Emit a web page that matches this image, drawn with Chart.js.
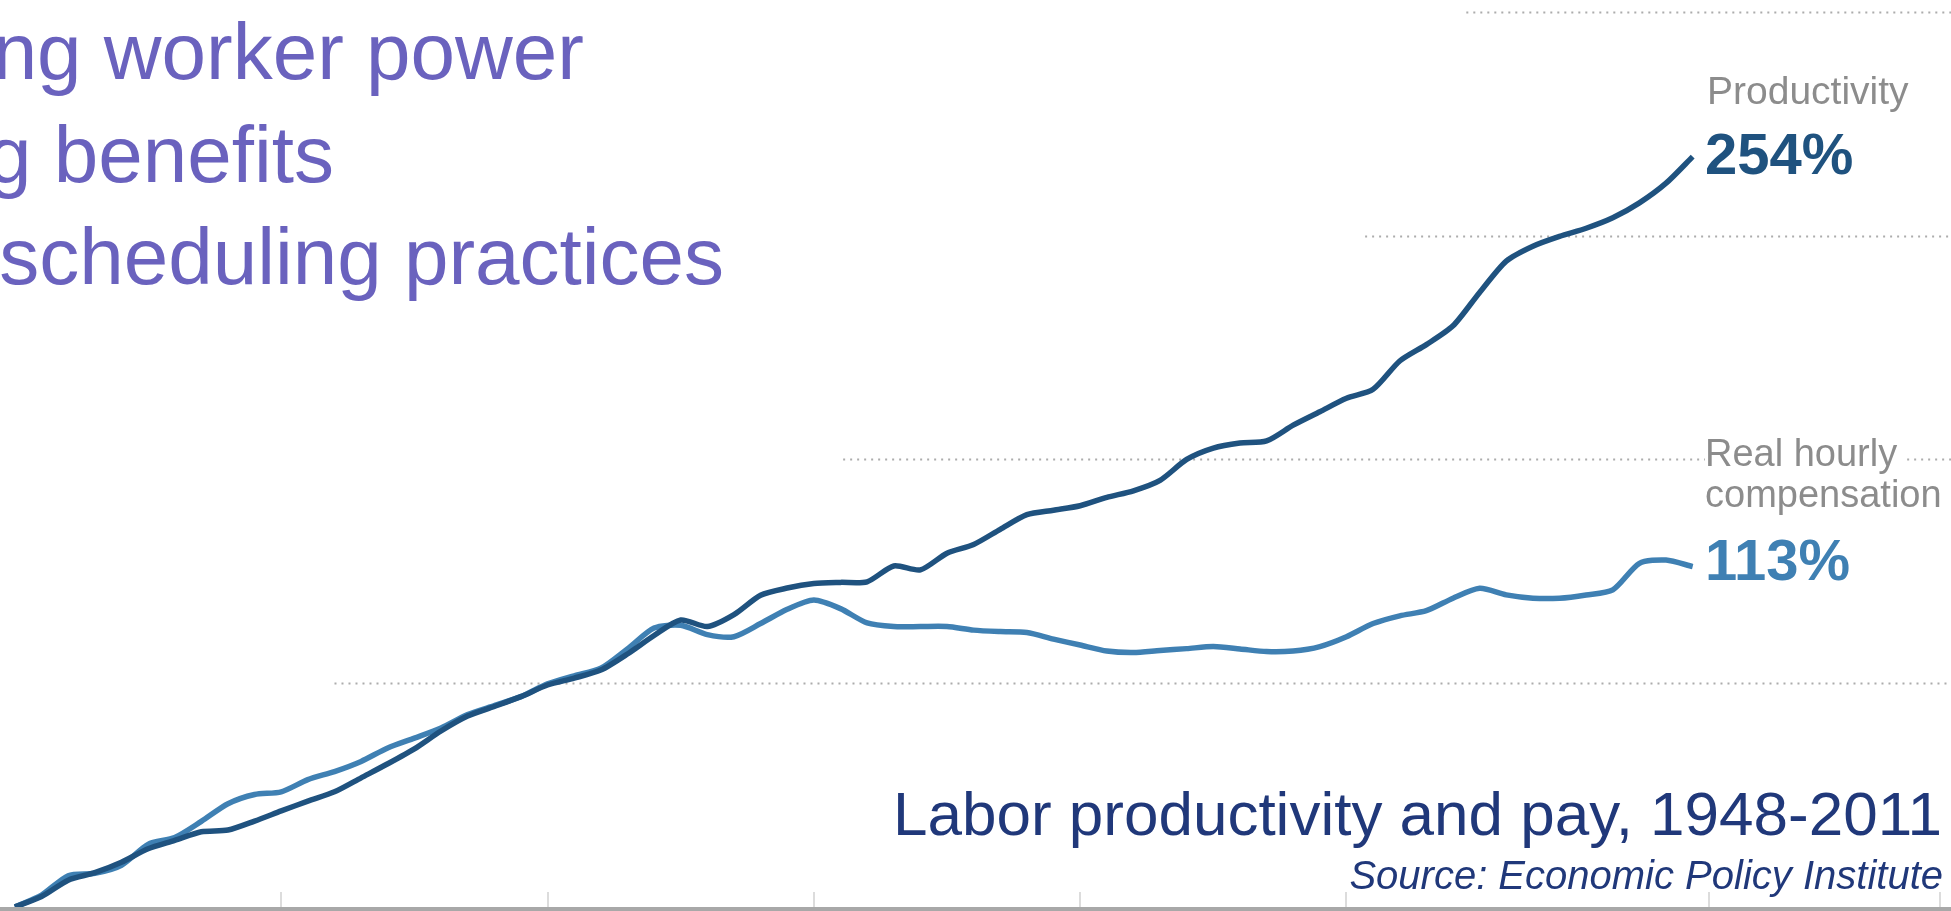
<!DOCTYPE html>
<html>
<head>
<meta charset="utf-8">
<title>Labor productivity and pay, 1948-2011</title>
<script src="https://cdn.jsdelivr.net/npm/chart.js@4.4.1/dist/chart.umd.min.js"></script>
<style>
    html, body {
        margin: 0;
        padding: 0;
        background: #ffffff;
    }
    body {
        width: 1951px;
        height: 911px;
        overflow: hidden;
        position: relative;
        font-family: "Liberation Sans", Arial, sans-serif;
    }
    #chartWrap {
        position: absolute;
        left: 0;
        top: 0;
        width: 1951px;
        height: 911px;
    }
    .txt {
        position: absolute;
        white-space: nowrap;
        line-height: 1;
    }
    .bullet {
        font-size: 80px;
        color: #6a62be;
    }
    .series-name {
        font-size: 38px;
        color: #8c8c8c;
        background: #ffffff;
    }
    .series-value {
        font-size: 58px;
        font-weight: bold;
    }
    .title {
        font-size: 62px;
        color: #20387a;
    }
    .source {
        font-size: 40px;
        font-style: italic;
        color: #20387a;
    }
</style>
</head>
<body>
<div id="chartWrap">
    <canvas id="payChart" width="1951" height="911"></canvas>
</div>

<!-- slide bullets, cut off on the left -->
<div class="txt bullet" style="right:1367px; top:12px;">ng worker power</div>
<div class="txt bullet" style="right:1617px; top:115px;">g benefits</div>
<div class="txt bullet" style="right:1227px; top:217px;">scheduling practices</div>

<!-- end labels -->
<div class="txt series-name" style="left:1707px; top:71px; font-size:39px;">Productivity</div>
<div class="txt series-value" style="left:1705px; top:125px; color:#1f527f;">254%</div>
<div class="txt series-name" style="left:1705px; top:434px; padding-right:6px;">Real hourly</div>
<div class="txt series-name" style="left:1705px; top:475px;">compensation</div>
<div class="txt series-value" style="left:1705px; top:531px; color:#3f80b3;">113%</div>

<div class="txt title" style="right:9px; top:783px;">Labor productivity and pay, 1948-2011</div>
<div class="txt source" style="right:8px; top:855px;">Source: Economic Policy Institute</div>

<script>
// Years on the x axis
const years = [
    1948, 1949, 1950, 1951, 1952, 1953, 1954, 1955, 1956, 1957,
    1958, 1959, 1960, 1961, 1962, 1963, 1964, 1965, 1966, 1967,
    1968, 1969, 1970, 1971, 1972, 1973, 1974, 1975, 1976, 1977,
    1978, 1979, 1980, 1981, 1982, 1983, 1984, 1985, 1986, 1987,
    1988, 1989, 1990, 1991, 1992, 1993, 1994, 1995, 1996, 1997,
    1998, 1999, 2000, 2001, 2002, 2003, 2004, 2005, 2006, 2007,
    2008, 2009, 2010, 2011
];

// Cumulative change since 1948, %
const productivity = [
    0, 3.5, 9, 11.5, 15, 19.5, 22.3, 25.2, 25.8, 28.8,
    32.2, 35.5, 38.6, 43.3, 48, 53, 59, 64, 67.2, 70.5,
    74.4, 76.7, 79.4, 84.8, 91, 96.2, 94, 98, 104.5, 106.9,
    108.4, 108.8, 109, 114.3, 113, 118.6, 121.5, 126.6, 131.5, 133,
    134.5, 137.3, 139.5, 143, 150, 153.8, 155.5, 156.2, 161.5, 166,
    170.5, 173.5, 183, 188.5, 194.8, 206, 216.5, 221.5, 224.8, 227.5,
    231, 236, 242.6, 251.5
];

const compensation = [
    0, 4, 10.5, 11.3, 14, 21, 23.3, 28.7, 34.6, 37.7,
    38.6, 42.7, 45.4, 48.8, 53.3, 56.6, 60, 64.5, 67.5, 70.5,
    74.8, 77.5, 80, 86.5, 93.5, 94.4, 91.3, 90.6, 95, 99.8,
    102.9, 100, 95.2, 94, 94, 94, 92.8, 92.3, 92, 89.8,
    87.8, 85.8, 85.3, 86, 86.6, 87.3, 86.5, 85.6, 85.8, 87.3,
    90.6, 95, 97.6, 99.3, 103.5, 106.8, 104.6, 103.5, 103.5, 104.6,
    106.3, 115.2, 116.3, 114.1
];

// Dotted reference lines (% values) and the year where each one begins
const gridValues = [75, 150, 225, 300];
const gridStartYears = [1960, 1979.1, 1998.7, 2002.5];

// Faint tick marks on the bottom axis
const tickYears = [1958, 1968, 1978, 1988, 1998, 2011.6, 2020.3];

function toPoints(values) {
    return values.map((v, i) => ({ x: years[i], y: v }));
}

// Draws the dotted grid, the bottom axis and its ticks
const backdropPlugin = {
    id: 'backdrop',
    beforeDatasetsDraw(chart) {
        const ctx = chart.ctx;
        const x = chart.scales.x;
        const y = chart.scales.y;
        ctx.save();
        ctx.strokeStyle = '#acacac';
        ctx.lineWidth = 2;
        ctx.setLineDash([2, 5]);
        gridValues.forEach((v, i) => {
            const py = Math.round(y.getPixelForValue(v)) + 0.5;
            ctx.beginPath();
            ctx.moveTo(x.getPixelForValue(gridStartYears[i]), py);
            ctx.lineTo(chart.width, py);
            ctx.stroke();
        });
        ctx.setLineDash([]);
        ctx.strokeStyle = '#dcdcdc';
        ctx.lineWidth = 2;
        const base = chart.chartArea.bottom;
        tickYears.forEach(t => {
            const px = Math.round(x.getPixelForValue(t));
            ctx.beginPath();
            ctx.moveTo(px, base - 15);
            ctx.lineTo(px, base);
            ctx.stroke();
        });
        ctx.restore();
    },
    afterDatasetsDraw(chart) {
        const ctx = chart.ctx;
        const base = chart.chartArea.bottom;
        ctx.save();
        ctx.fillStyle = '#a8a8a8';
        ctx.fillRect(0, base, chart.width, chart.height - base);
        ctx.restore();
    }
};

document.addEventListener('DOMContentLoaded', function() {
    const ctx = document.getElementById('payChart');
    new Chart(ctx, {
        type: 'line',
        data: {
            datasets: [{
                label: 'Productivity',
                data: toPoints(productivity),
                borderColor: '#1f527f',
                borderWidth: 5.5,
                pointRadius: 0,
                tension: 0.25,
                fill: false
            }, {
                label: 'Real hourly compensation',
                data: toPoints(compensation),
                borderColor: '#3f80b3',
                borderWidth: 5.5,
                pointRadius: 0,
                tension: 0.25,
                fill: false
            }]
        },
        options: {
            responsive: false,
            animation: false,
            devicePixelRatio: 1,
            layout: {
                padding: { left: 0, right: 0, top: 0, bottom: 4 }
            },
            plugins: {
                legend: { display: false },
                tooltip: { enabled: false }
            },
            scales: {
                x: {
                    type: 'linear',
                    min: 1947.44,
                    max: 2020.7,
                    display: false
                },
                y: {
                    min: 0,
                    max: 304,
                    display: false
                }
            }
        },
        plugins: [backdropPlugin]
    });
});
</script>
</body>
</html>
